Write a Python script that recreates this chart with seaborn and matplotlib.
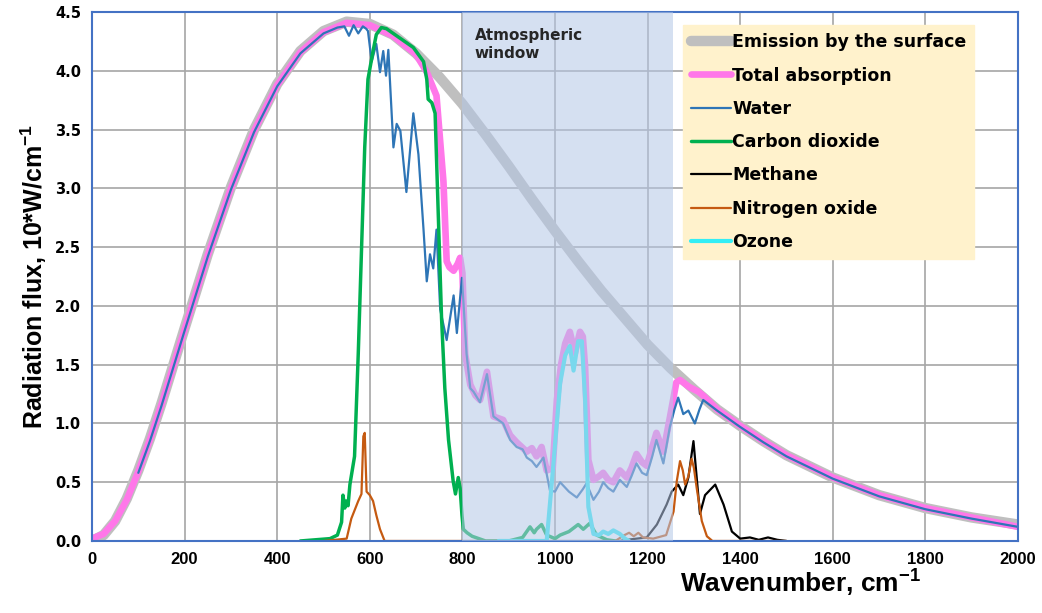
import numpy as np
import pandas as pd
import seaborn as sns
import matplotlib.pyplot as plt

# values
emis_x = [0, 25, 50, 75, 100, 125, 150, 175, 200, 250, 300, 350, 400, 450, 500, 550, 600, 650, 700,
          750, 800, 850, 900, 950, 1000, 1050, 1100, 1150, 1200, 1250, 1300, 1350, 1400, 1450, 1500,
          1600, 1700, 1800, 1900, 2000]
emis_y = [0.0, 0.05, 0.17, 0.36, 0.60, 0.87, 1.17, 1.49, 1.81, 2.44, 3.01, 3.50, 3.89, 4.17, 4.34, 4.42,
          4.40, 4.31, 4.15, 3.95, 3.72, 3.46, 3.19, 2.91, 2.64, 2.38, 2.13, 1.90, 1.67, 1.47, 1.29, 1.12,
          0.98, 0.85, 0.73, 0.54, 0.39, 0.28, 0.20, 0.14]

total_x = [0, 25, 50, 75, 100, 125, 150, 175, 200, 250, 300, 350, 400, 450, 500, 550, 600, 650, 700,
           723, 744, 752, 759, 766, 772, 781, 790, 795, 800, 806, 817, 828, 838, 853, 867, 888, 903, 917,
           939, 950, 960, 971, 982, 995, 1004, 1013, 1022, 1032, 1043, 1054, 1060, 1065, 1072, 1083, 1095,
           1104, 1115, 1126, 1140, 1155, 1165, 1176, 1188, 1198, 1210, 1219, 1234, 1248, 1262, 1270, 1290,
           1310, 1322, 1350, 1400, 1450, 1500, 1600, 1700, 1800, 1900, 2000]
total_y = [0.02, 0.06, 0.17, 0.35, 0.59, 0.86, 1.16, 1.48, 1.80, 2.43, 3.00, 3.49, 3.88, 4.16, 4.33, 4.41,
           4.39, 4.30, 4.14, 3.99, 3.79, 3.40, 3.06, 2.38, 2.33, 2.30, 2.36, 2.41, 2.28, 1.59, 1.33, 1.24,
           1.20, 1.44, 1.06, 1.03, 0.90, 0.84, 0.76, 0.79, 0.72, 0.80, 0.60, 0.62, 1.20, 1.50, 1.68, 1.78,
           1.60, 1.78, 1.74, 1.48, 0.69, 0.52, 0.55, 0.58, 0.52, 0.50, 0.60, 0.54, 0.62, 0.74, 0.67, 0.64,
           0.80, 0.92, 0.76, 1.05, 1.35, 1.37, 1.31, 1.27, 1.23, 1.12, 0.98, 0.85, 0.73, 0.54, 0.39, 0.28,
           0.20, 0.12]

water_x = [100, 125, 150, 175, 200, 250, 300, 350, 400, 450, 500, 530, 545, 555, 565, 575, 585, 592,
           596, 604, 614, 622, 629, 635, 640, 651, 658, 666, 679, 694, 705, 716, 723, 730, 737, 744, 752,
           766, 781, 788, 799, 809, 817, 824, 838, 853, 867, 888, 903, 917, 930, 939, 950, 960, 975, 989,
           1000, 1011, 1030, 1047, 1060, 1068, 1083, 1095, 1104, 1115, 1126, 1140, 1155, 1165, 1176, 1188,
           1198, 1210, 1219, 1234, 1248, 1258, 1266, 1277, 1288, 1302, 1312, 1320, 1350, 1400, 1450, 1500,
           1600, 1700, 1800, 1900, 2000]
water_y = [0.58, 0.85, 1.15, 1.47, 1.79, 2.42, 2.99, 3.48, 3.87, 4.15, 4.32, 4.37, 4.38, 4.30, 4.39,
           4.32, 4.38, 4.36, 4.34, 4.08, 4.23, 3.99, 4.17, 3.96, 4.18, 3.35, 3.55, 3.49, 2.97, 3.64, 3.29,
           2.65, 2.21, 2.44, 2.32, 2.65, 1.97, 1.71, 2.09, 1.77, 2.24, 1.59, 1.30, 1.27, 1.18, 1.42, 1.06,
           1.00, 0.86, 0.80, 0.78, 0.71, 0.68, 0.63, 0.71, 0.43, 0.42, 0.50, 0.42, 0.37, 0.44, 0.49, 0.35,
           0.42, 0.50, 0.45, 0.42, 0.52, 0.46, 0.55, 0.66, 0.58, 0.56, 0.72, 0.86, 0.66, 0.97, 1.12, 1.22,
           1.08, 1.11, 1.00, 1.12, 1.20, 1.11, 0.97, 0.84, 0.72, 0.53, 0.38, 0.27, 0.19, 0.12]

co2_x = [450, 514, 530, 539, 542, 546, 549, 553, 557, 567, 575, 582, 589, 596, 607, 614, 625, 636, 665,
         694, 716, 723, 726, 734, 741, 748, 755, 762, 770, 780, 785, 791, 795, 799, 802, 810, 821, 850,
         900, 930, 946, 955, 960, 971, 982, 1000, 1011, 1030, 1050, 1061, 1075, 1090, 1112, 1130]
co2_y = [0.0, 0.02, 0.05, 0.16, 0.39, 0.28, 0.34, 0.30, 0.48, 0.72, 1.59, 2.47, 3.35, 3.93, 4.17, 4.31,
         4.37, 4.36, 4.28, 4.20, 4.08, 3.93, 3.76, 3.73, 3.64, 2.76, 1.89, 1.30, 0.86, 0.51, 0.40, 0.54,
         0.45, 0.22, 0.10, 0.07, 0.04, 0.0, 0.0, 0.03, 0.12, 0.07, 0.10, 0.14, 0.05, 0.02, 0.05, 0.08,
         0.14, 0.10, 0.15, 0.05, 0.01, 0.0]

ch4_x = [1140, 1155, 1198, 1220, 1241, 1252, 1266, 1277, 1288, 1299, 1306, 1313, 1324, 1346, 1364,
         1382, 1400, 1421, 1440, 1460, 1480, 1500]
ch4_y = [0.0, 0.01, 0.03, 0.14, 0.31, 0.42, 0.48, 0.39, 0.54, 0.85, 0.54, 0.23, 0.39, 0.48, 0.31,
         0.08, 0.02, 0.03, 0.01, 0.03, 0.01, 0.0]

n2o_x = [500, 550, 560, 575, 582, 586, 589, 593, 600, 607, 614, 622, 632, 700, 800, 1130, 1150, 1160,
         1170, 1180, 1190, 1212, 1240, 1256, 1263, 1270, 1276, 1281, 1288, 1295, 1300, 1306, 1317,
         1328, 1340, 1500]
n2o_y = [0.0, 0.02, 0.19, 0.34, 0.40, 0.89, 0.92, 0.42, 0.39, 0.34, 0.22, 0.10, 0.0, 0.0, 0.0, 0.0,
         0.05, 0.07, 0.04, 0.07, 0.03, 0.02, 0.05, 0.25, 0.51, 0.68, 0.60, 0.48, 0.55, 0.70, 0.62, 0.45,
         0.17, 0.04, 0.0, 0.0]

o3_x = [878, 982, 996, 1011, 1022, 1032, 1040, 1050, 1058, 1065, 1072, 1083, 1095, 1104, 1115, 1126,
        1140, 1151, 1160]
o3_y = [0.0, 0.0, 0.63, 1.34, 1.58, 1.66, 1.45, 1.70, 1.70, 1.20, 0.29, 0.06, 0.05, 0.08, 0.06, 0.09,
        0.06, 0.02, 0.0]

window_lo, window_hi = 800, 1255

series = [
    ("Emission by the surface", emis_x, emis_y, "#BFBFBF", 7.5),
    ("Total absorption", total_x, total_y, "#FF77E9", 4.8),
    ("Water", water_x, water_y, "#2E75B6", 1.6),
    ("Carbon dioxide", co2_x, co2_y, "#00B050", 2.5),
    ("Methane", ch4_x, ch4_y, "#000000", 1.6),
    ("Nitrogen oxide", n2o_x, n2o_y, "#C55A11", 1.6),
    ("Ozone", o3_x, o3_y, "#33EEF5", 3.0),
]

sns.set_style("whitegrid")
plt.rcParams['font.family'] = ['DejaVu Sans']
plt.rcParams['text.color'] = 'black'
plt.rcParams['axes.labelcolor'] = 'black'
# superscripts in the axis labels drawn with the label font
plt.rcParams['mathtext.fontset'] = 'custom'
plt.rcParams['mathtext.rm'] = 'Liberation Sans:bold'
plt.rcParams['mathtext.bf'] = 'Liberation Sans:bold'
plt.rcParams['mathtext.default'] = 'bf'

fig = plt.figure(figsize=(10.42, 6.13), dpi=100)
ax = fig.add_axes([0.0883, 0.1175, 0.8887, 0.8625])

for name, xs, ys, col, lw in series:
    df = pd.DataFrame({"x": xs, "y": ys})
    sns.lineplot(data=df, x="x", y="y", ax=ax, color=col, linewidth=lw, label=name,
                 solid_capstyle="round", solid_joinstyle="round")

ax.axvspan(window_lo, window_hi, color="#B4C7E7", alpha=0.55, zorder=3, lw=0)
ax.text(827, 4.37, "Atmospheric\nwindow", fontsize=11, fontweight="bold", color="#262626",
        va="top", ha="left", zorder=4, linespacing=1.3)

ax.set_xlim(0, 2000)
ax.set_ylim(0, 4.5)
ax.set_xticks(np.arange(0, 2001, 200))
ax.set_yticks(np.arange(0, 4.51, 0.5))
ax.set_yticklabels([f"{v:.1f}" for v in np.arange(0, 4.51, 0.5)])
ax.grid(True, color="#A6A6A6", linewidth=1.2)
for s in ax.spines.values():
    s.set_color("#4472C4")
    s.set_linewidth(1.5)
ax.tick_params(axis="both", length=4, color="#A6A6A6", pad=4, labelcolor="black")
for lab in ax.get_yticklabels():
    lab.set_fontweight("bold")
    lab.set_fontsize(10.5)
for lab in ax.get_xticklabels():
    lab.set_family(["Liberation Sans Narrow", "Liberation Sans"])
    lab.set_fontweight("bold")
    lab.set_fontsize(12)

ax.set_xlabel("Wavenumber, cm$^{-1}$", fontsize=19, family=["Liberation Sans Narrow", "Liberation Sans"],
              fontweight="bold")
ax.xaxis.set_label_coords(0.765, -0.05)
ax.set_ylabel("Radiation flux, 10*W/cm$^{-1}$", fontsize=18, family="Liberation Sans", fontweight="bold")

leg = ax.legend(loc="upper left", bbox_to_anchor=(0.638, 0.975), borderaxespad=0, frameon=True,
                fancybox=False, facecolor="#FFF2CC", edgecolor="#FFF2CC", framealpha=1,
                prop={"weight": "bold", "size": 12.5}, handlelength=2.3, handletextpad=0.1,
                labelspacing=0.88, borderpad=0.45)
leg.set_zorder(5)
for t in leg.get_texts():
    t.set_color("black")

fig.savefig("out.png", dpi=100)
